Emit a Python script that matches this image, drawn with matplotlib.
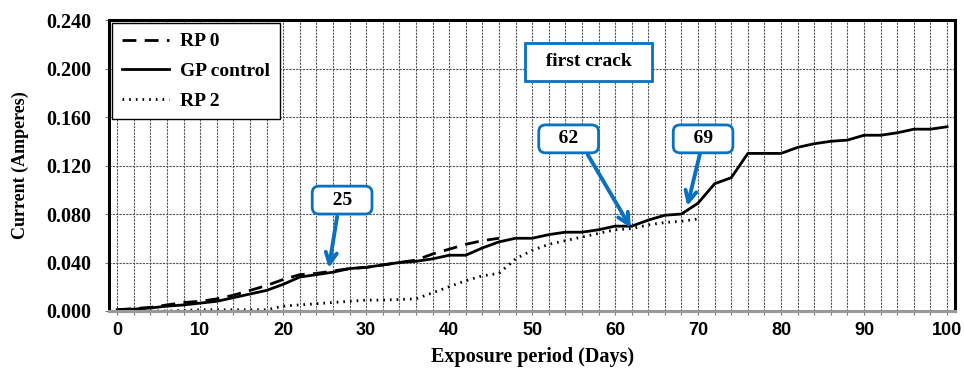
import numpy as np
import matplotlib.pyplot as plt
from matplotlib.ticker import MultipleLocator

# Data
#-------------------------
days_gp = [0, 2, 4, 6, 8, 10, 12, 14, 16, 18, 20, 22, 24, 26, 28, 30, 32, 34, 36, 38,
           40, 42, 44, 46, 48, 50, 52, 54, 56, 58, 60, 62, 64, 66, 68, 70, 72, 74, 76,
           78, 80, 82, 84, 86, 88, 90, 92, 94, 96, 98, 100]
gp_control = [0.001, 0.0015, 0.0025, 0.004, 0.005, 0.0065, 0.008, 0.011, 0.014, 0.017,
              0.022, 0.028, 0.030, 0.032, 0.035, 0.036, 0.038, 0.040, 0.041, 0.043,
              0.046, 0.046, 0.052, 0.057, 0.060, 0.060, 0.063, 0.065, 0.065, 0.067,
              0.070, 0.070, 0.075, 0.079, 0.080, 0.089, 0.105, 0.110, 0.130, 0.130,
              0.130, 0.135, 0.138, 0.140, 0.141, 0.145, 0.145, 0.147, 0.150, 0.150, 0.152]

days_rp0 = [0, 2, 4, 6, 8, 10, 12, 14, 16, 18, 20, 22, 24, 26, 28, 30, 32, 34, 36, 38,
            40, 42, 44, 46]
rp0 = [0.001, 0.002, 0.003, 0.005, 0.007, 0.008, 0.010, 0.013, 0.017, 0.021, 0.026,
       0.030, 0.031, 0.033, 0.035, 0.036, 0.038, 0.040, 0.042, 0.047, 0.051, 0.055,
       0.058, 0.060]

days_rp2 = [0, 2, 4, 6, 8, 10, 12, 14, 16, 18, 20, 22, 24, 26, 28, 30, 32, 34, 36, 38,
            40, 42, 44, 46, 48, 50, 52, 54, 56, 58, 60, 62, 64, 66, 68, 70]
rp2 = [0.000, 0.000, 0.000, 0.000, 0.0005, 0.001, 0.001, 0.001, 0.001, 0.001, 0.004,
       0.005, 0.006, 0.007, 0.008, 0.009, 0.009, 0.0095, 0.010, 0.015, 0.020, 0.025,
       0.029, 0.031, 0.043, 0.050, 0.055, 0.058, 0.061, 0.064, 0.067, 0.068, 0.071,
       0.073, 0.074, 0.076]

# callouts: label, box centre, arrow start, arrow tip
callout_labels = ['25', '62', '69']
callout_box = [(27.1, 0.0915), (54.4, 0.142), (70.6, 0.142)]
callout_start = [(26.5, 0.078), (56.7, 0.129), (70.2, 0.129)]
callout_tip = [(25.5, 0.0355), (61.9, 0.0685), (68.7, 0.0866)]
crack_pos = (56.8, 0.2055)

serif = 'Liberation Serif'
sans = 'Liberation Sans'
blue = '#0A70C0'

#Plot
#-----
fig = plt.figure(figsize=(9.64, 3.72), dpi=100)
ax = fig.add_axes([0.113, 0.164, 0.878, 0.782])

ax.plot(days_rp0, rp0, color='black', lw=2, ls=(0, (5, 3)), label='RP 0')
ax.plot(days_gp, gp_control, color='black', lw=2, ls='-', label='GP control')
ax.plot(days_rp2, rp2, color='black', lw=2, ls=(0, (0.6, 1.8)), label='RP 2')

ax.set_xlim(-1, 101)
ax.set_ylim(0, 0.24)
ax.xaxis.set_major_locator(MultipleLocator(10))
ax.xaxis.set_minor_locator(MultipleLocator(2))
ax.yaxis.set_major_locator(MultipleLocator(0.04))
ax.set_yticklabels(['%.3f' % v for v in ax.get_yticks()])
ax.grid(which='both', axis='x', color='#555555', ls=(0, (2, 1)), lw=0.8)
ax.grid(which='major', axis='y', color='#555555', ls=(0, (2, 1)), lw=0.8)
ax.tick_params(which='both', length=3, width=0.8, color='#777777')
ax.tick_params(axis='x', pad=5)
ax.tick_params(axis='y', pad=10)

for lab in ax.get_xticklabels():
    lab.set_fontfamily(sans)
    lab.set_fontweight('bold')
    lab.set_fontsize(13)
for lab in ax.get_yticklabels():
    lab.set_fontfamily(serif)
    lab.set_fontweight('bold')
    lab.set_fontsize(14.5)

for s in ['left', 'right', 'top']:
    ax.spines[s].set_linewidth(2.2)
ax.spines['bottom'].set_linewidth(2.2)
ax.spines['bottom'].set_color('#999999')

ax.set_xlabel('Exposure period (Days)', family=serif, weight='bold', fontsize=14.5, labelpad=6)
ax.set_ylabel('Current (Amperes)', family=serif, weight='bold', fontsize=13, labelpad=12)

leg = ax.legend(loc='upper left', bbox_to_anchor=(0.004, 0.99), fancybox=False,
                edgecolor='black', framealpha=1, handlelength=2.4, labelspacing=0.62,
                prop={'family': serif, 'weight': 'bold', 'size': 14},
                borderaxespad=0, borderpad=0.5, handletextpad=0.6)
leg.get_frame().set_linewidth(1)

ax.text(crack_pos[0], crack_pos[1], '  first crack  ', family=serif, weight='bold',
        fontsize=14, ha='center', va='center',
        bbox=dict(boxstyle='square,pad=0.55', fc='white', ec=blue, lw=2))

for lab, box, st, tip in zip(callout_labels, callout_box, callout_start, callout_tip):
    ax.annotate('', xy=tip, xytext=st,
                arrowprops=dict(arrowstyle='->,head_length=0.8,head_width=0.4',
                                color=blue, lw=2.8, shrinkA=0, shrinkB=0))
    ax.text(box[0], box[1], '   ' + lab + '   ', family=serif, weight='bold', fontsize=14,
            ha='center', va='center', zorder=5,
            bbox=dict(boxstyle='round,pad=0.28,rounding_size=0.35', fc='white', ec=blue, lw=2))

plt.savefig('out.png', dpi=100)
